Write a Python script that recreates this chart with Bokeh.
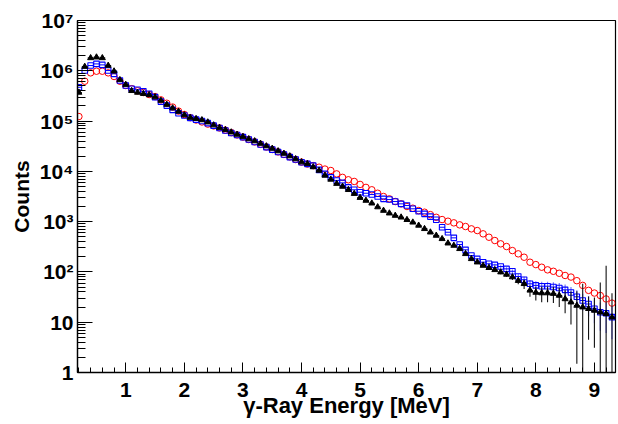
import numpy as np
from bokeh.plotting import figure
from bokeh.models import Range1d, FixedTicker
from bokeh.embed import file_html
from bokeh.resources import INLINE

# bin centres [MeV]
energy = [0.2, 0.3, 0.4, 0.5, 0.6, 0.7, 0.8, 0.9, 1.0, 1.1, 1.2, 1.3, 1.4, 1.5, 1.6, 1.7,
          1.8, 1.9, 2.0, 2.1, 2.2, 2.3, 2.4, 2.5, 2.6, 2.7, 2.8, 2.9, 3.0, 3.1, 3.2, 3.3,
          3.4, 3.5, 3.6, 3.7, 3.8, 3.9, 4.0, 4.1, 4.2, 4.3, 4.4, 4.5, 4.6, 4.7, 4.8, 4.9,
          5.0, 5.1, 5.2, 5.3, 5.4, 5.5, 5.6, 5.7, 5.8, 5.9, 6.0, 6.1, 6.2, 6.3, 6.4, 6.5,
          6.6, 6.7, 6.8, 6.9, 7.0, 7.1, 7.2, 7.3, 7.4, 7.5, 7.6, 7.7, 7.8, 7.9, 8.0, 8.1,
          8.2, 8.3, 8.4, 8.5, 8.6, 8.7, 8.8, 8.9, 9.0, 9.1, 9.2, 9.3]

black_counts = [3.7e5, 1.21e6, 1.80e6, 1.86e6, 1.80e6, 1.27e6, 9.8e5, 6.6e5, 5.3e5, 4.0e5,
                3.7e5, 3.5e5, 3.3e5, 3.0e5, 2.56e5, 2.13e5, 1.81e5, 1.55e5, 1.32e5, 1.17e5,
                1.11e5, 1.05e5, 9.5e4, 8.3e4, 7.4e4, 6.7e4, 6.0e4, 5.4e4, 4.9e4, 4.4e4,
                4.0e4, 3.57e4, 3.18e4, 2.84e4, 2.53e4, 2.26e4, 2.01e4, 1.76e4, 1.53e4, 1.41e4,
                1.22e4, 1.04e4, 8.3e3, 6.9e3, 5.7e3, 5.0e3, 4.3e3, 3.6e3, 3.0e3, 2.63e3,
                2.32e3, 1.95e3, 1.66e3, 1.47e3, 1.32e3, 1.22e3, 1.09e3, 970, 840, 720,
                615, 530, 455, 372, 335, 288, 229, 182, 156, 134,
                121, 110, 99, 89, 79, 67, 58, 43, 39, 38,
                38, 37, 34, 29, 25, 21.5, 19.9, 18.5, 17.1, 15.8,
                14.7, 12.6]
black_err = [0] * 68 + [8, 8, 8, 9, 9, 9, 10, 10, 12, 11, 12, 13, 13, 13, 14, 14,
                        16, 20, 38, 14, 14, 46, 118, 25]

blue_counts = [4.7e5, 1.01e6, 1.27e6, 1.37e6, 1.31e6, 1.01e6, 8.7e5, 6.4e5, 5.1e5, 4.4e5,
               4.2e5, 3.9e5, 3.5e5, 3.0e5, 2.44e5, 2.03e5, 1.67e5, 1.43e5, 1.29e5, 1.16e5,
               1.07e5, 1.0e5, 9.1e4, 8.1e4, 7.3e4, 6.5e4, 5.8e4, 5.3e4, 4.8e4, 4.3e4,
               3.83e4, 3.41e4, 3.04e4, 2.71e4, 2.42e4, 2.16e4, 1.92e4, 1.72e4, 1.52e4, 1.41e4,
               1.30e4, 1.07e4, 8.9e3, 7.6e3, 6.6e3, 5.9e3, 4.8e3, 4.3e3, 3.85e3, 3.67e3,
               3.46e3, 3.16e3, 2.84e3, 2.75e3, 2.51e3, 2.26e3, 2.09e3, 1.80e3, 1.61e3, 1.43e3,
               1.26e3, 1.09e3, 774, 615, 476, 351, 275, 212, 182, 156,
               145, 138, 128, 115, 103, 81, 70, 58, 54, 52,
               52, 50, 48, 44, 39, 32, 27, 23, 18.5, 15.8,
               15.1, 12.6]
blue_err = [0] * 66 + [5, 5, 6, 6, 7, 7, 8, 9, 9, 10, 10, 11, 11, 12, 12, 12,
                       12, 12, 11, 11, 10, 10, 9, 9, 9, 8]

red_counts = [1.23e5, 6.2e5, 9.1e5, 9.8e5, 9.8e5, 9.1e5, 7.7e5, 6.2e5, 5.1e5, 4.4e5,
              4.0e5, 3.7e5, 3.37e5, 3.07e5, 2.64e5, 2.26e5, 1.90e5, 1.58e5, 1.35e5, 1.17e5,
              1.05e5, 9.6e4, 8.7e4, 8.0e4, 7.3e4, 6.6e4, 5.9e4, 5.3e4, 4.8e4, 4.3e4,
              3.85e4, 3.45e4, 3.05e4, 2.72e4, 2.44e4, 2.17e4, 1.94e4, 1.72e4, 1.53e4, 1.40e4,
              1.30e4, 1.21e4, 1.11e4, 1.04e4, 8.9e3, 7.6e3, 6.8e3, 6.3e3, 5.5e3, 4.8e3,
              4.3e3, 3.67e3, 3.16e3, 2.84e3, 2.51e3, 2.26e3, 2.0e3, 1.85e3, 1.66e3, 1.54e3,
              1.38e3, 1.22e3, 1.10e3, 1.02e3, 946, 863, 800, 719, 665, 572,
              490, 421, 362, 320, 266, 229, 196, 156, 140, 124,
              110, 103, 94, 85, 79, 67, 54, 43, 38, 34,
              29, 24]

bin_half_width = 0.05

x_major = [1, 2, 3, 4, 5, 6, 7, 8, 9]
y_major = [1, 10, 100, 1e3, 1e4, 1e5, 1e6, 1e7]
y_labels = ["1", "10", "10\u00b2", "10\u00b3", "10\u2074", "10\u2075", "10\u2076", "10\u2077"]

FONT = "Liberation Sans"

E = np.array(energy)
bk = np.array(black_counts, dtype=float)
bke = np.array(black_err, dtype=float)
bl = np.array(blue_counts, dtype=float)
ble = np.array(blue_err, dtype=float)
rd = np.array(red_counts, dtype=float)
assert len(E) == len(bk) == len(bke) == len(bl) == len(ble) == len(rd)

p = figure(width=618, height=424, output_backend="svg", toolbar_location=None,
           x_range=Range1d(0.176, 9.36), y_range=Range1d(1, 1e7), y_axis_type="log",
           min_border_left=77, min_border_right=3, min_border_top=20, min_border_bottom=52)
p.xgrid.visible = False
p.ygrid.visible = False
p.background_fill_color = "white"
p.border_fill_color = "white"
p.outline_line_color = "black"
p.outline_line_width = 1.2

# axes
xminor = [round(0.2 * k, 1) for k in range(1, 47) if abs(0.2 * k - round(0.2 * k)) > 1e-6]
p.xaxis.ticker = FixedTicker(ticks=x_major, minor_ticks=xminor)
yminor = [m * 10.0 ** k for k in range(0, 7) for m in range(2, 10)]
p.yaxis.ticker = FixedTicker(ticks=y_major, minor_ticks=yminor)
p.yaxis.major_label_overrides = {v: s for v, s in zip(y_major, y_labels)}
for ax in (p.xaxis[0], p.yaxis[0]):
    ax.axis_line_color = "black"
    ax.axis_line_width = 1.3
    ax.major_tick_line_color = "black"
    ax.minor_tick_line_color = "black"
    ax.major_tick_out = 0
    ax.minor_tick_out = 0
    ax.major_label_text_font = FONT
    ax.major_label_text_font_style = "bold"
    ax.major_label_text_font_size = "21px"
    ax.major_label_text_color = "black"
    ax.axis_label_text_font = FONT
    ax.axis_label_text_font_style = "bold"
    ax.axis_label_text_color = "black"
p.xaxis.major_tick_in = 10
p.xaxis.minor_tick_in = 5
p.yaxis.major_tick_in = 15
p.yaxis.minor_tick_in = 8
p.xaxis.major_label_standoff = 10
p.yaxis.major_label_standoff = 4
p.xaxis.axis_label = "\u03b3-Ray Energy [MeV]"
p.xaxis.axis_label_text_font_size = "22px"
p.xaxis.axis_label_standoff = -7
p.yaxis.axis_label = "Counts"
p.yaxis.axis_label_text_font_size = "21px"
p.yaxis.axis_label_standoff = 4

# red: open circles
p.scatter(E, rd, marker="circle", size=6.5, fill_color=None, line_color="#ff0000", line_width=1)

# blue: open squares with error bars
mb = ble > 0
p.segment(E[mb], np.maximum(bl[mb] - ble[mb], 0.05), E[mb], bl[mb] + ble[mb],
          line_color="#0000ff", line_alpha=0.55, line_width=1.2)
p.segment(E - bin_half_width, bl, E + bin_half_width, bl, line_color="#0000ff", line_width=1)
p.scatter(E, bl, marker="square", size=5.5, fill_color=None, line_color="#0000ff", line_width=1.1)

# black: filled triangles with error bars
mk = bke > 0
p.segment(E[mk], np.maximum(bk[mk] - bke[mk], 0.05), E[mk], bk[mk] + bke[mk],
          line_color="#111111", line_width=1.1)
p.segment(E - bin_half_width, bk, E + bin_half_width, bk, line_color="black", line_width=1)
p.scatter(E, bk, marker="triangle", size=6, fill_color="black", line_color="black", line_width=1)

open("out.html", "w").write(file_html(p, INLINE))
